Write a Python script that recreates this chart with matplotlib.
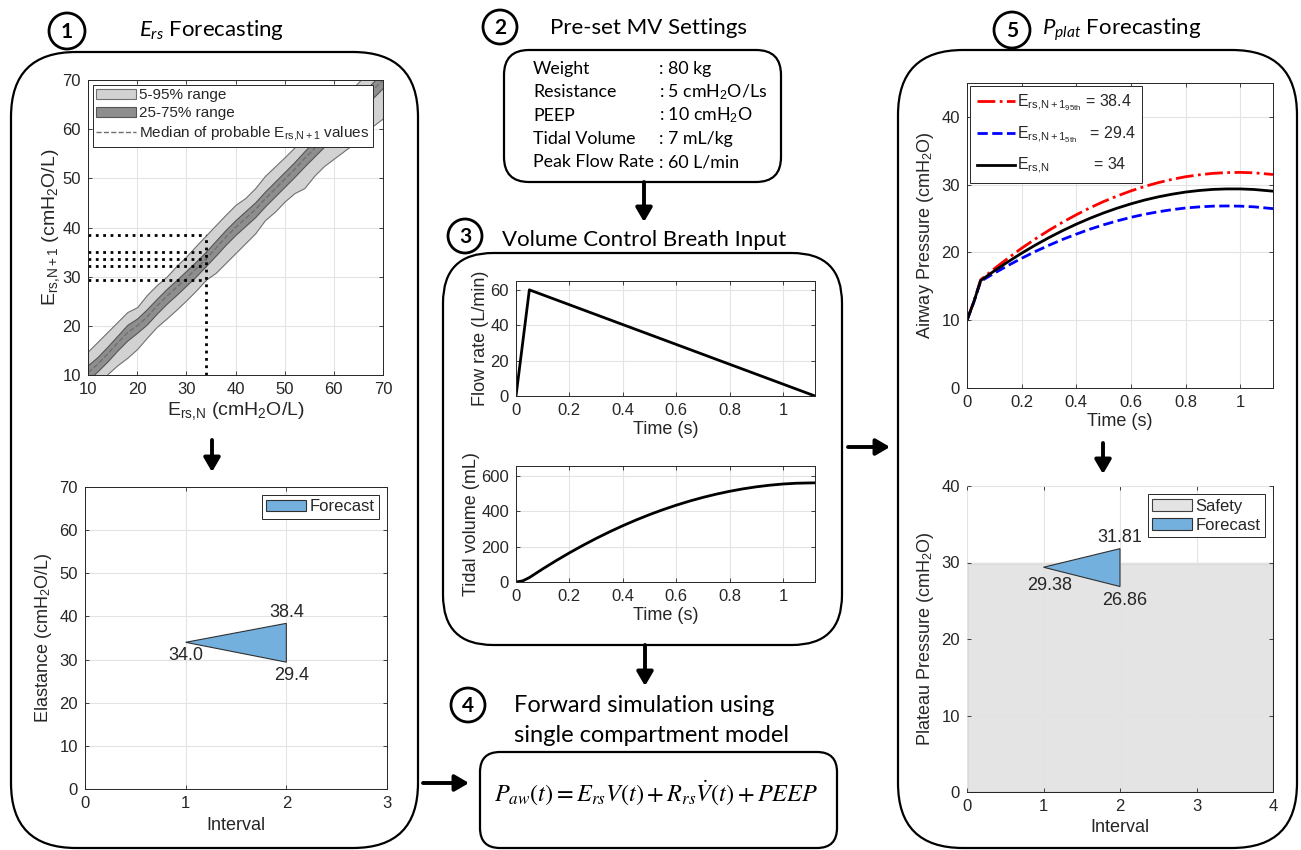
import matplotlib
matplotlib.use('Agg')
import matplotlib.pyplot as plt
from matplotlib.patches import FancyBboxPatch, Circle

W, H = 1301, 850
plt.rcParams['font.family'] = ['Liberation Sans', 'DejaVu Sans']
plt.rcParams['mathtext.fontset'] = 'custom'
plt.rcParams['mathtext.rm'] = 'Liberation Sans'
plt.rcParams['mathtext.it'] = 'Lato:italic'
plt.rcParams['mathtext.bf'] = 'Liberation Sans:bold'

# ---------------- DATA ----------------
# Panel 1: probability bands of E_rs,N+1 vs E_rs,N
ers_n = [10, 12, 14, 16, 18, 20, 22, 24, 26, 28, 30, 32, 34, 36, 38, 40,
         42, 44, 46, 48, 50, 52, 54, 56, 58, 60, 62, 64, 66, 68, 70]
q05 = [5.8, 7.8, 10.2, 12.0, 13.5, 15.3, 17.6, 19.8, 21.5, 23.3, 25.2, 27.2, 29.4, 30.8, 32.8, 34.8,
       36.8, 38.8, 41.5, 43.2, 45.3, 47.0, 48.0, 50.5, 52.5, 54.0, 55.5, 57.0, 58.8, 60.7, 62.2]
q25 = [9.0, 10.8, 12.8, 15.0, 17.0, 18.6, 20.3, 22.5, 24.5, 26.3, 28.2, 30.1, 32.2, 34.3, 36.5, 38.5,
       40.3, 42.1, 44.3, 46.3, 48.3, 50.3, 52.4, 54.4, 56.4, 58.4, 60.4, 62.4, 64.4, 66.4, 68.4]
q50 = [10.5, 12.2, 14.3, 16.5, 18.6, 20.0, 21.8, 24.0, 26.0, 27.8, 29.7, 31.6, 33.6, 35.8, 38.0, 40.0,
       41.8, 43.6, 45.8, 47.8, 49.8, 51.8, 54.0, 56.0, 58.0, 60.0, 62.0, 64.0, 66.0, 68.0, 70.0]
q75 = [12.0, 13.7, 15.8, 18.0, 20.2, 21.5, 23.4, 25.5, 27.5, 29.3, 31.2, 33.1, 35.1, 37.3, 39.5, 41.5,
       43.3, 45.1, 47.3, 49.3, 51.3, 53.3, 55.5, 57.5, 59.5, 61.5, 63.5, 65.6, 67.6, 69.6, 71.6]
q95 = [14.8, 16.8, 18.8, 20.8, 22.8, 23.8, 26.3, 28.3, 30.0, 32.2, 34.1, 36.3, 38.4, 40.5, 42.6, 44.6,
       46.0, 48.0, 50.5, 52.4, 54.3, 56.3, 58.3, 60.0, 62.0, 64.3, 66.4, 68.5, 70.6, 72.6, 74.6]
ers_current = 34
ers_levels = [38.4, 35.1, 33.6, 32.2, 29.4]

# Panel 1 bottom: forecast triangle
ers_interval = [1, 2, 2]
ers_forecast = [34.0, 38.4, 29.4]
ers_labels = ['34.0', '38.4', '29.4']

# Panel 2: settings
setting_names = ['Weight', 'Resistance', 'PEEP', 'Tidal Volume', 'Peak Flow Rate']
setting_values = [': 80 kg', ': 5 cmH$_2$O/Ls', ': 10 cmH$_2$O', ': 7 mL/kg', ': 60 L/min']

# Panel 3: breath input
flow_t = [0, 0.05, 1.12]
flow_q = [0, 60, 0]
time_s = [0, 0.025, 0.05, 0.1, 0.15, 0.2, 0.25, 0.3, 0.35, 0.4, 0.45, 0.5, 0.55, 0.6,
          0.65, 0.7, 0.75, 0.8, 0.85, 0.9, 0.95, 1.0, 1.05, 1.12]
tidal_ml = [0, 6.3, 25, 73.8, 120.3, 164.5, 206.3, 245.8, 282.9, 317.8, 350.2, 380.4, 408.2, 433.6,
            456.8, 477.6, 496.0, 512.1, 525.9, 537.4, 546.5, 553.3, 557.7, 560.0]

# Panel 5: airway pressure
paw_95 = [10, 12.74, 15.96, 17.60, 19.15, 20.62, 21.99, 23.27, 24.46, 25.56, 26.58, 27.51, 28.33, 29.08,
          29.74, 30.30, 30.78, 31.17, 31.45, 31.67, 31.78, 31.81, 31.75, 31.50]
paw_05 = [10, 12.68, 15.74, 16.94, 18.07, 19.14, 20.14, 21.06, 21.92, 22.70, 23.43, 24.08, 24.66, 25.18,
          25.63, 26.00, 26.31, 26.56, 26.72, 26.83, 26.86, 26.83, 26.73, 26.46]
paw_n = [10, 12.71, 15.85, 17.28, 18.62, 19.89, 21.08, 22.19, 23.22, 24.17, 25.04, 25.83, 26.54, 27.17,
         27.73, 28.20, 28.59, 28.91, 29.14, 29.30, 29.37, 29.37, 29.29, 29.04]
paw_labels = [r'$\mathregular{E_{rs{,}N+1_{95th}}}$ = 38.4',
              r'$\mathregular{E_{rs{,}N+1_{5th}}}$   = 29.4',
              r'$\mathregular{E_{rs{,}N}}$          = 34']

pplat_interval = [1, 2, 2]
pplat_forecast = [29.38, 31.81, 26.86]
pplat_labels = ['29.38', '31.81', '26.86']
safety_interval = [0, 4]
safety_limit = 30

# ---------------- FIGURE ----------------
fig = plt.figure(figsize=(W / 100, H / 100), dpi=100)
ov = fig.add_axes([0, 0, 1, 1], zorder=-1)
ov.set_xlim(0, W)
ov.set_ylim(H, 0)
ov.axis('off')

TXT = '#262626'
TFONT = 'Lato'
TICK = 12
LAB = 13


def add_ax(l, t, r, b):
    return fig.add_axes([l / W, 1 - b / H, (r - l) / W, (b - t) / H])


def style(ax):
    ax.tick_params(direction='in', length=3, top=True, right=True, labelsize=TICK,
                   colors=TXT, width=0.6, pad=5)
    for s in ax.spines.values():
        s.set_color(TXT)
        s.set_linewidth(0.7)
    ax.grid(True, color='#e3e3e3', lw=0.8)
    ax.set_axisbelow(True)


def rbox(x0, y0, x1, y1, r):
    ov.add_patch(FancyBboxPatch((x0, y0), x1 - x0, y1 - y0,
                                boxstyle=f'round,pad=0,rounding_size={r}',
                                fc='none', ec='black', lw=1.6))


def num(x, y, n, r=17):
    ov.add_patch(Circle((x, y), r, fc='none', ec='black', lw=2))
    ov.text(x, y + 1, str(n), ha='center', va='center', fontsize=15, fontweight='bold',
            family=TFONT)


def arrow(x0, y0, x1, y1):
    ov.annotate('', xy=(x1, y1), xytext=(x0, y0),
                arrowprops=dict(arrowstyle='-|>,head_length=0.6,head_width=0.35', lw=2.8,
                                color='black', shrinkA=0, shrinkB=0, mutation_scale=14))


def leg(ax, **kw):
    base = dict(fancybox=False, framealpha=1, edgecolor=TXT, borderpad=0.25,
                handletextpad=0.2, labelspacing=0.25)
    base.update(kw)
    lg = ax.legend(**base)
    lg.get_frame().set_linewidth(0.7)
    for t in lg.get_texts():
        t.set_color(TXT)
    return lg


# boxes
rbox(11, 52, 418, 848, 65)
rbox(504, 50, 781, 182, 25)
rbox(443, 253, 842, 645, 50)
rbox(480, 752, 837, 848, 20)
rbox(898, 50, 1297, 848, 65)

# titles
num(67, 31, 1, 18)
ov.text(211, 30, r'$E_{rs}$ Forecasting', ha='center', va='center', fontsize=16, family=TFONT)
num(500, 27, 2)
ov.text(649, 28, 'Pre-set MV Settings', ha='center', va='center', fontsize=16, family=TFONT)
num(465, 236, 3)
ov.text(644, 240, 'Volume Control Breath Input', ha='center', va='center', fontsize=16,
        family=TFONT)
num(468, 705, 4)
ov.text(644, 705, 'Forward simulation using', ha='center', va='center', fontsize=17,
        family=TFONT)
ov.text(652, 735, 'single compartment model', ha='center', va='center', fontsize=17,
        family=TFONT)
num(1012, 30, 5, 18)
ov.text(1122, 30, r'$P_{plat}$ Forecasting', ha='center', va='center', fontsize=16,
        family=TFONT)

# settings text
for i, (nm, vl) in enumerate(zip(setting_names, setting_values)):
    y = 69 + i * 23.3
    ov.text(533, y, nm, ha='left', va='center', fontsize=12.8, family=TFONT)
    ov.text(659, y, vl, ha='left', va='center', fontsize=12.8, family=TFONT)

# equation
ov.text(656, 793, r'$P_{aw}(t) = E_{rs}V(t) + R_{rs}\dot{V}(t) + PEEP$', ha='center',
        va='center', fontsize=17.5, math_fontfamily='stix')

# arrows
arrow(644, 182, 644, 222)
arrow(645, 645, 645, 686)
arrow(212, 440, 212, 472)
arrow(1103, 443, 1103, 474)
arrow(423, 783, 469, 783)
arrow(848, 447, 890, 447)

# ---------- Panel 1 top ----------
ax1 = add_ax(88, 80, 383, 375)
style(ax1)
ax1.fill_between(ers_n, q05, q95, fc='#d2d2d2', ec='#707070', lw=0.8, label='5-95% range')
ax1.fill_between(ers_n, q25, q75, fc='#8e8e8e', ec='#555555', lw=0.8, label='25-75% range')
ax1.plot(ers_n, q50, '--', color='#707070', lw=1.0,
         label=r'Median of probable $\mathregular{E_{rs{,}N+1}}$ values')
for lev in ers_levels:
    ax1.plot([ers_n[0], ers_current], [lev, lev], ':', color='black', lw=2)
ax1.plot([ers_current, ers_current], [ers_n[0], max(ers_levels)], ':', color='black', lw=2)
ax1.set_xlim(10, 70)
ax1.set_ylim(10, 70)
ax1.set_xticks(range(10, 71, 10))
ax1.set_yticks(range(10, 71, 10))
ax1.set_xlabel(r'$\mathregular{E_{rs{,}N}}$ (cmH$_2$O/L)', fontsize=LAB + 1, color=TXT, labelpad=2)
ax1.set_ylabel(r'$\mathregular{E_{rs{,}N+1}}$ (cmH$_2$O/L)', fontsize=LAB + 1, color=TXT, labelpad=0)
leg(ax1, loc='upper left', fontsize=11, handlelength=2.6, borderaxespad=0.3)

# ---------- Panel 1 bottom ----------
ax2 = add_ax(85, 487, 387, 789)
style(ax2)
ax2.fill(ers_interval, ers_forecast, fc='#74b0dd', ec='#303030', lw=0.8, label='Forecast')
ax2.text(ers_interval[0], ers_forecast[0] - 3, ers_labels[0], ha='center', va='center',
         fontsize=13, color=TXT)
ax2.text(ers_interval[1], ers_forecast[1] + 2.6, ers_labels[1], ha='center', va='center',
         fontsize=13, color=TXT)
ax2.text(ers_interval[2] + 0.05, ers_forecast[2] - 3, ers_labels[2], ha='center', va='center',
         fontsize=13, color=TXT)
ax2.set_xlim(0, 3)
ax2.set_ylim(0, 70)
ax2.set_xticks(range(0, 4))
ax2.set_yticks(range(0, 71, 10))
ax2.set_xlabel('Interval', fontsize=LAB, color=TXT)
ax2.set_ylabel(r'Elastance (cmH$_2$O/L)', fontsize=LAB, color=TXT)
leg(ax2, loc='upper right', fontsize=12, handlelength=2.4, borderaxespad=0.5)

# ---------- Panel 3 ----------
tt = [0, 0.2, 0.4, 0.6, 0.8, 1.0]
tl = ['0', '0.2', '0.4', '0.6', '0.8', '1']
ax3 = add_ax(516, 281, 815, 396)
style(ax3)
ax3.plot(flow_t, flow_q, color='black', lw=2)
ax3.set_xlim(0, 1.12)
ax3.set_ylim(0, 65)
ax3.set_yticks([0, 20, 40, 60])
ax3.set_xticks(tt)
ax3.set_xticklabels(tl)
ax3.set_xlabel('Time (s)', fontsize=LAB, color=TXT, labelpad=2)
ax3.set_ylabel('Flow rate (L/min)', fontsize=LAB, color=TXT, labelpad=1)

ax4 = add_ax(516, 466, 815, 582)
style(ax4)
ax4.plot(time_s, tidal_ml, color='black', lw=2)
ax4.set_xlim(0, 1.12)
ax4.set_ylim(0, 655)
ax4.set_yticks([0, 200, 400, 600])
ax4.set_xticks(tt)
ax4.set_xticklabels(tl)
ax4.set_xlabel('Time (s)', fontsize=LAB, color=TXT, labelpad=2)
ax4.set_ylabel('Tidal volume (mL)', fontsize=LAB, color=TXT, labelpad=1)

# ---------- Panel 5 top ----------
ax5 = add_ax(967, 83, 1273, 388)
style(ax5)
ax5.plot(time_s, paw_95, '-.', color='red', lw=2, label=paw_labels[0])
ax5.plot(time_s, paw_05, '--', color='blue', lw=2, label=paw_labels[1])
ax5.plot(time_s, paw_n, '-', color='black', lw=2, label=paw_labels[2])
ax5.set_xlim(0, 1.12)
ax5.set_ylim(0, 45)
ax5.set_yticks(range(0, 41, 10))
ax5.set_xticks(tt)
ax5.set_xticklabels(tl)
ax5.set_xlabel('Time (s)', fontsize=LAB, color=TXT, labelpad=2)
ax5.set_ylabel(r'Airway Pressure (cmH$_2$O)', fontsize=LAB, color=TXT)
leg(ax5, loc='upper left', fontsize=11.5, handlelength=2.4, borderpad=0.4,
    labelspacing=0.7, borderaxespad=0.2, handletextpad=0.1)

# ---------- Panel 5 bottom ----------
ax6 = add_ax(967, 486, 1273, 792)
style(ax6)
ax6.set_axisbelow(False)
ax6.fill_between(safety_interval, 0, safety_limit, fc='#e4e4e4', ec='#404040', lw=0.8,
                 label='Safety', zorder=1)
ax6.fill(pplat_interval, pplat_forecast, fc='#74b0dd', ec='#303030', lw=0.8, label='Forecast',
         zorder=3)
ax6.text(pplat_interval[0] + 0.08, pplat_forecast[0] - 2.4, pplat_labels[0], ha='center',
         va='center', fontsize=13, color=TXT, zorder=4)
ax6.text(pplat_interval[1], pplat_forecast[1] + 1.5, pplat_labels[1], ha='center',
         va='center', fontsize=13, color=TXT, zorder=4)
ax6.text(pplat_interval[2] + 0.06, pplat_forecast[2] - 1.8, pplat_labels[2], ha='center',
         va='center', fontsize=13, color=TXT, zorder=4)
ax6.set_xlim(0, 4)
ax6.set_ylim(0, 40)
ax6.set_xticks(range(0, 5))
ax6.set_yticks(range(0, 41, 10))
ax6.set_xlabel('Interval', fontsize=LAB, color=TXT)
ax6.set_ylabel(r'Plateau Pressure (cmH$_2$O)', fontsize=LAB, color=TXT)
lg = leg(ax6, loc='upper right', fontsize=12, handlelength=2.4, borderaxespad=0.5)
lg.set_zorder(10)

fig.savefig('out.png', dpi=100)
